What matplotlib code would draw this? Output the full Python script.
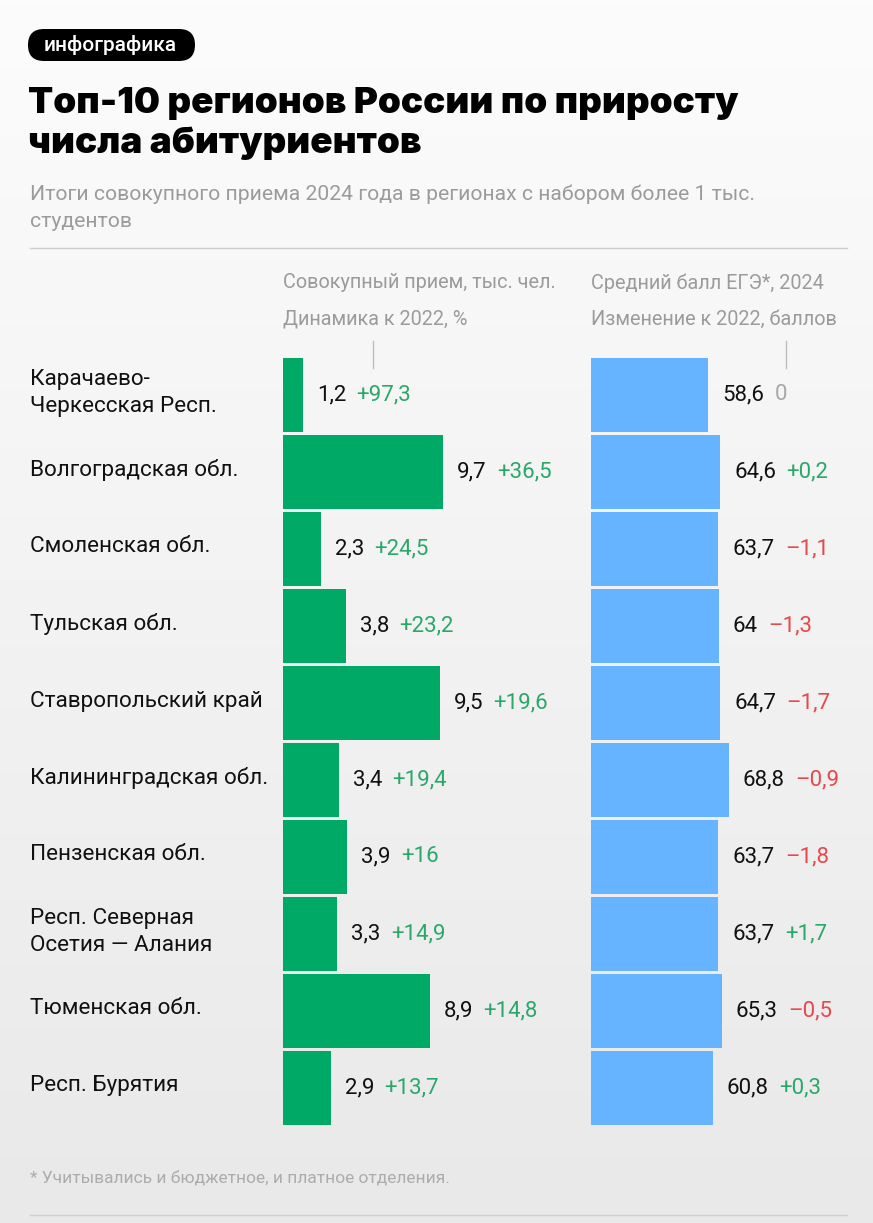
import numpy as np
import matplotlib.pyplot as plt
from matplotlib.colors import LinearSegmentedColormap
from matplotlib.patches import FancyBboxPatch

# data
regions = ["Карачаево-\nЧеркесская Респ.", "Волгоградская обл.", "Смоленская обл.",
           "Тульская обл.", "Ставропольский край", "Калининградская обл.",
           "Пензенская обл.", "Респ. Северная\nОсетия — Алания", "Тюменская обл.",
           "Респ. Бурятия"]
admission = [1.2, 9.7, 2.3, 3.8, 9.5, 3.4, 3.9, 3.3, 8.9, 2.9]
admission_chg = [97.3, 36.5, 24.5, 23.2, 19.6, 19.4, 16, 14.9, 14.8, 13.7]
ege = [58.6, 64.6, 63.7, 64, 64.7, 68.8, 63.7, 63.7, 65.3, 60.8]
ege_chg = [0, 0.2, -1.1, -1.3, -1.7, -0.9, -1.8, 1.7, -0.5, 0.3]

GREEN = "#00a965"
BLUE = "#66b3ff"
POS = "#2aa86a"
NEG = "#e5484d"
ZERO = "#a8a8a8"
GRAY = "#9b9b9b"

plt.rcParams['font.family'] = ['Roboto', 'DejaVu Sans']

W, H = 873, 1223
fig = plt.figure(figsize=(W / 100, H / 100), dpi=100)

# background + text layer in pixel coordinates
bg = fig.add_axes([0, 0, 1, 1])
cmap = LinearSegmentedColormap.from_list('bg', ['#fcfcfc', '#e9e9e9'])
bg.imshow(np.linspace(0, 1, 256).reshape(-1, 1), extent=[0, W, H, 0],
          cmap=cmap, aspect='auto')
bg.set_xlim(0, W)
bg.set_ylim(H, 0)
bg.axis('off')

# badge
bg.add_patch(FancyBboxPatch((28, 29), 167, 32,
                            boxstyle='round,pad=0,rounding_size=16',
                            fc='black', ec='none'))
bg.text(110, 45, "инфографика", color='white', fontsize=15, fontweight='medium',
        ha='center', va='center')

# title
bg.text(28, 113, "Топ-10 регионов России по приросту", fontsize=26.5,
        fontweight='black', family=['Inter', 'DejaVu Sans'], va='baseline')
bg.text(28, 153, "числа абитуриентов", fontsize=26.5,
        fontweight='black', family=['Inter', 'DejaVu Sans'], va='baseline')

# subtitle
bg.text(30, 200, "Итоги совокупного приема 2024 года в регионах с набором более 1 тыс.",
        fontsize=15.2, color=GRAY, va='baseline')
bg.text(30, 227, "студентов", fontsize=15.2, color=GRAY, va='baseline')

bg.plot([30, 847], [248, 248], color='#cfcfcf', lw=1)
bg.plot([30, 847], [1215, 1215], color='#cfcfcf', lw=1)

# column headers
for x, l1, l2 in [(283, "Совокупный прием, тыс. чел.", "Динамика к 2022, %"),
                  (591, "Средний балл ЕГЭ*, 2024", "Изменение к 2022, баллов")]:
    bg.text(x, 283, l1, fontsize=14.3, color=GRAY, va='center')
    bg.text(x, 319, l2, fontsize=14.3, color=GRAY, va='center')
bg.plot([373, 373], [341, 368], color='#bdbdbd', lw=1)
bg.plot([786, 786], [341, 368], color='#bdbdbd', lw=1)

# footnote
bg.text(30, 1178, "* Учитывались и бюджетное, и платное отделения.",
        fontsize=12.5, color='#acacac', va='center')

# row labels
top, pitch = 356.5, 77
for i, name in enumerate(regions):
    bg.text(30, top + pitch * (i + 0.5) - 2, name, fontsize=16.2, color='#111111',
            va='center', linespacing=1.4)


def fmt(v):
    return f"{abs(v):g}".replace('.', ',')


def chg_label(v):
    if v > 0:
        return "+" + fmt(v), POS
    if v < 0:
        return "–" + fmt(v), NEG
    return "0", ZERO


def panel(x0, width_px, px_per_unit, values, changes, color):
    ax = fig.add_axes([x0 / W, 1 - (top + pitch * 10) / H, width_px / W, pitch * 10 / H])
    ax.barh(range(len(values)), values, height=74 / 77, color=color)
    ax.set_xlim(0, width_px / px_per_unit)
    ax.set_ylim(len(values) - 0.5, -0.5)
    ax.axis('off')
    for i, (v, c) in enumerate(zip(values, changes)):
        t = ax.annotate(fmt(v), xy=(v, i), xytext=(10, 0), textcoords='offset points',
                        va='center', ha='left', fontsize=16, color='#111111')
        s, col = chg_label(c)
        ax.annotate(s, xy=(1, 0.5), xycoords=t, xytext=(7.5, 0),
                    textcoords='offset points', va='center', ha='left',
                    fontsize=16, color=col)
    return ax


panel(283, 277, 16.5, admission, admission_chg, GREEN)
panel(591, 282, 2.0, ege, ege_chg, BLUE)

fig.savefig("out.png", dpi=100)
